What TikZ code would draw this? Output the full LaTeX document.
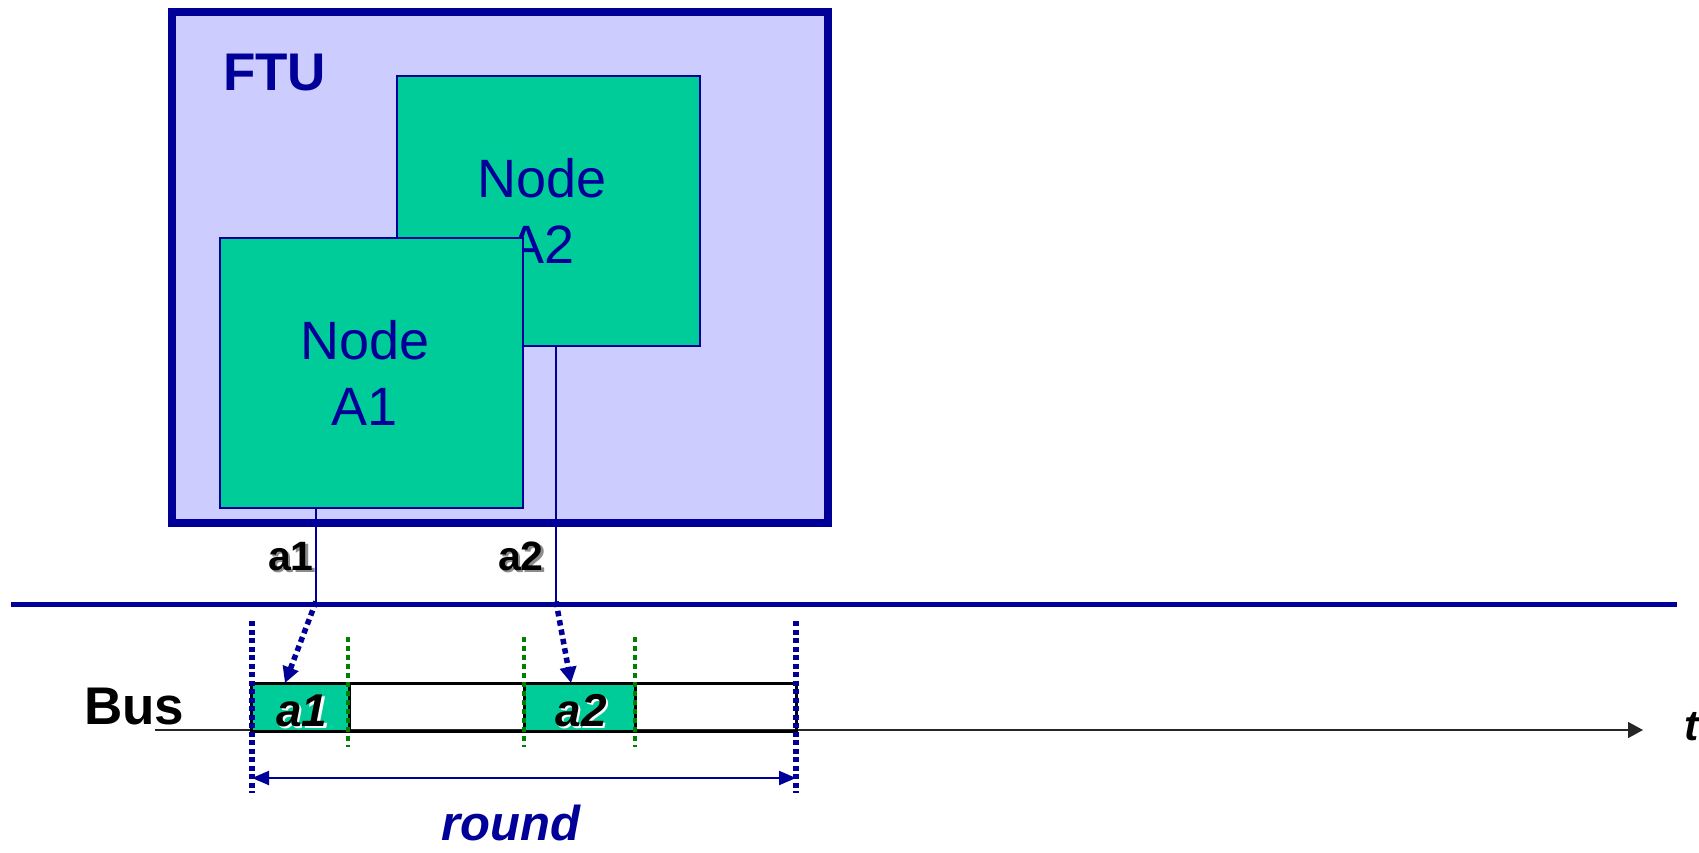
\documentclass[tikz,border=0pt]{standalone}
\usepackage{fontspec}
\setmainfont{Liberation Sans}
\usetikzlibrary{arrows.meta}
\definecolor{dkblue}{RGB}{0,0,153}
\definecolor{lav}{RGB}{204,204,255}
\definecolor{nodegreen}{RGB}{0,204,153}
\definecolor{dotgreen}{RGB}{0,128,0}
\newcommand\shtext[2]{\makebox[0pt][l]{\hspace{2.2pt}\raisebox{-2.2pt}{\color{#1}#2}}#2}
\newcommand\padr{\rule{13pt}{0pt}}
\tikzset{
  ftubox/.style={draw=dkblue,fill=lav,line width=8pt,inner sep=0pt,minimum width=656pt,minimum height=511.5pt},
  nodebox/.style={draw=dkblue,fill=nodegreen,line width=2pt,inner sep=0pt,minimum width=303pt,minimum height=270pt,
    text=dkblue,align=center,font=\fontsize{54}{66}\selectfont},
  wire/.style={draw=dkblue,line width=1.5pt},
  busline/.style={draw=dkblue,line width=5pt},
  sendarrow/.style={draw=dkblue,line width=5.5pt,dash pattern=on 5.5pt off 4pt,
    -{Triangle[length=16pt,width=16pt,fill=dkblue]}},
  bluedots/.style={draw=dkblue,line width=5.5pt,dash pattern=on 5pt off 3.5pt},
  greendots/.style={draw=dotgreen,line width=3.5pt,dash pattern=on 5pt off 4pt},
  slotframe/.style={draw=black,line width=3pt},
  slotbox/.style={draw=black,fill=nodegreen,line width=3pt,inner sep=0pt,minimum height=48pt},
  axis/.style={draw=black!85,line width=1.5pt,-{Triangle[length=15pt,width=16pt]}},
  roundarrow/.style={draw=dkblue,line width=2pt,{Triangle[length=17pt,width=14pt]}-{Triangle[length=17pt,width=14pt]}},
  lbl/.style={inner sep=0pt},
}
\begin{document}
\begin{tikzpicture}[x=1pt,y=-1pt]
\useasboundingbox (0,0) rectangle (1699,852);
% FTU
\node[ftubox] (ftu) at (500,267.25) {};
\node[lbl,anchor=base west,text=dkblue,font=\bfseries\fontsize{53}{60}\selectfont] (ftulbl) at (223,90) {FTU};
\node[nodebox] (A2) at (548.5,211) {Node\padr\\A2\padr};
\node[nodebox] (A1) at (371.5,373) {Node\padr\\A1\padr};
% bus line
\coordinate (busL) at (11,604.5);
\coordinate (busR) at (1677,604.5);
\coordinate (b1) at (316,604.5);
\coordinate (b2) at (556,604.5);
\draw[wire] (A1.south -| b1) -- (b1);
\draw[wire] (A2.south -| b2) -- (b2);
\draw[busline] (busL) -- (busR);
\node[lbl,anchor=base east,font=\bfseries\fontsize{41}{48}\selectfont] (la1) at (314,570) {\shtext{black!45}{a1}};
\node[lbl,anchor=base east,font=\bfseries\fontsize{41}{48}\selectfont] (la2) at (544,570) {\shtext{black!45}{a2}};
% time axis
\coordinate (axL) at (155,730);
\coordinate (axR) at (1643,730);
\draw[axis] (axL) -- (axR);
\node[lbl,anchor=base west,font=\bfseries\itshape\fontsize{43}{50}\selectfont] (tl) at (1684,740) {t};
\node[lbl,anchor=base west,font=\bfseries\fontsize{53}{60}\selectfont] (buslbl) at (84,724) {Bus};
% slots
\coordinate (fr1) at (251,683);
\coordinate (fr2) at (796,731);
\draw[slotframe] (fr1) rectangle (fr2);
\node[slotbox,minimum width=98pt] (s1) at (300,707) {};
\node[slotbox,minimum width=111pt] (s2) at (579.5,707) {};
\node[lbl,anchor=base,font=\bfseries\itshape\fontsize{46}{50}\selectfont] (ts1) at (302,726) {\shtext{white}{a1}};
\node[lbl,anchor=base,font=\bfseries\itshape\fontsize{46}{50}\selectfont] (ts2) at (581,726) {\shtext{white}{a2}};
% dotted markers
\coordinate (vb1t) at (252,621); \coordinate (vb1b) at (252,793);
\coordinate (vb2t) at (796,621); \coordinate (vb2b) at (796,793);
\draw[bluedots] (vb1t) -- (vb1b);
\draw[bluedots] (vb2t) -- (vb2b);
\coordinate (g1t) at (348,637); \coordinate (g1b) at (348,747);
\coordinate (g2t) at (524,637); \coordinate (g2b) at (524,747);
\coordinate (g3t) at (635,637); \coordinate (g3b) at (635,747);
\draw[greendots] (g1t) -- (g1b);
\draw[greendots] (g2t) -- (g2b);
\draw[greendots] (g3t) -- (g3b);
% send arrows
\coordinate (t1) at (285,683);
\coordinate (t2) at (571,683);
\draw[sendarrow] ([yshift=3pt]b1) -- (t1);
\draw[sendarrow] ([yshift=3pt]b2) -- (t2);
% round
\coordinate (rL) at (252,778);
\coordinate (rR) at (796,778);
\draw[roundarrow] (rL) -- (rR);
\node[lbl,anchor=base,text=dkblue,font=\bfseries\itshape\fontsize{49}{56}\selectfont] (roundlbl) at (511,840) {round};
\end{tikzpicture}
\end{document}
